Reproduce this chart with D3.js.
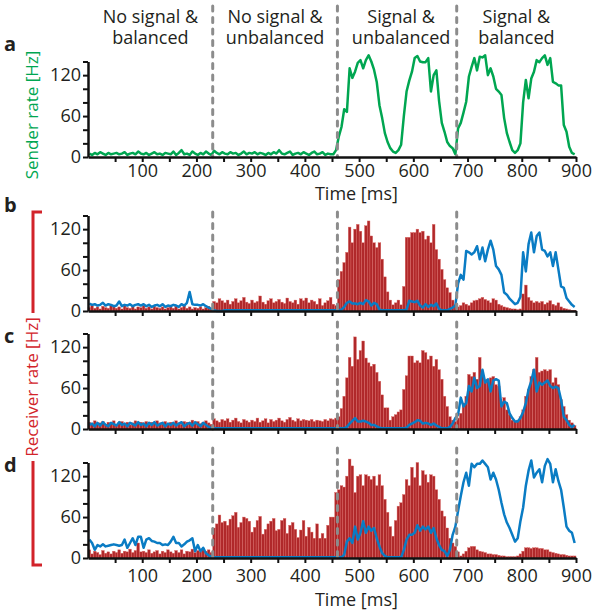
<!DOCTYPE html>
<html>
<head>
<meta charset="utf-8">
<script src="https://cdn.jsdelivr.net/npm/d3@7"></script>
<style>
body { margin: 0; background: #fff; }
text { font-family: "Open Sans", sans-serif; fill: #231f20; }
</style>
</head>
<body>
<div id="chart"></div>
<script>
//DATA
//Regimes and their boundaries (ms)
const regimeLabels = [["No signal &", "balanced"], ["No signal &", "unbalanced"], ["Signal &", "unbalanced"], ["Signal &", "balanced"]];
const regimeBounds = [0, 230, 460, 680, 900];

//Bins of 5 ms, one value per bin (0-895 ms)
const binWidth = 5;

//Panel a - sender rate (Hz)
const senderRate = [
  5,3,6,4,7,5,3,6,4,5,
  6,4,5,7,3,5,6,4,8,5,
  4,6,3,5,7,4,5,3,6,5,
  4,8,3,6,10,4,5,3,8,5,
  3,6,4,8,5,3,9,6,4,7,
  5,4,7,5,6,3,5,8,4,6,
  5,7,4,6,5,3,6,4,7,5,
  10,5,4,6,8,3,5,6,4,7,
  5,3,6,8,4,5,7,3,5,4,
  4,10,30,44,70,66,130,116,125,138,
  142,130,142,149,140,128,110,76,57,35,
  22,13,8,6,10,18,60,96,112,125,
  145,148,140,139,139,145,96,120,127,82,
  50,37,22,16,13,4,42,50,65,81,
  118,132,145,127,147,146,149,120,130,118,
  100,96,91,57,35,22,10,6,10,20,
  80,113,86,115,125,142,139,145,149,135,
  145,110,108,105,105,47,37,15,6,4
];

//Panel b - receiver histogram and rate
const receiverBarsB = [
  5,8,4,6,3,7,5,4,9,6,
  4,6,3,8,5,4,7,3,6,5,
  8,4,6,3,7,5,4,6,3,5,
  6,4,7,3,5,8,4,6,3,5,
  4,6,3,5,7,4,14,12,18,15,
  12,16,10,14,18,12,15,20,13,11,
  16,12,14,22,13,10,15,18,12,14,
  17,13,11,19,14,12,16,10,18,15,
  19,12,16,14,10,18,8,12,15,20,
  10,8,46,58,71,86,123,100,120,127,
  117,100,125,132,110,100,93,100,76,50,
  28,16,9,12,16,9,36,108,108,115,
  115,120,115,117,105,110,100,127,90,76,
  61,46,34,27,16,9,6,8,12,10,
  8,12,15,16,18,20,17,15,12,18,
  16,10,8,6,5,4,3,3,2,3,
  25,38,20,15,12,14,12,14,10,12,
  15,10,8,12,6,4,3,2,1,1
];
const receiverLineB = [
  11,9,10,8,9,12,8,10,9,7,
  8,14,7,9,8,10,7,9,10,8,
  10,7,9,6,8,9,7,10,6,8,
  7,9,8,6,10,8,12,28,10,9,
  9,8,10,7,5,3,1,0,0,0,
  1,1,1,1,1,1,1,1,1,1,
  1,1,1,1,1,1,1,1,1,1,
  1,1,1,1,1,1,1,1,1,1,
  1,1,1,1,1,1,1,1,1,1,
  1,1,1,2,6,12,14,11,11,10,
  12,10,16,14,8,12,10,2,1,1,
  1,1,1,1,1,1,1,2,15,14,
  13,15,8,5,10,6,9,7,11,3,
  1,1,1,3,5,8,40,53,46,88,
  86,83,86,95,76,93,73,90,103,90,
  66,61,53,27,24,18,14,10,12,21,
  86,58,98,115,86,110,115,90,88,80,
  86,66,86,61,36,34,19,14,9,6
];

//Panel c - receiver histogram and rate
const receiverBarsC = [
  10,8,12,7,9,11,6,10,8,12,
  7,9,11,8,10,6,9,12,8,10,
  9,11,7,10,8,12,9,7,11,8,
  10,8,12,9,7,11,10,8,13,9,
  11,8,10,12,9,7,15,12,10,14,
  12,15,10,13,16,11,9,14,12,10,
  13,11,16,10,12,15,9,14,11,13,
  16,12,10,14,17,13,11,15,12,14,
  13,12,14,11,13,12,11,14,12,15,
  14,16,18,30,48,75,105,92,135,102,
  115,129,104,97,92,95,83,70,50,31,
  31,13,18,21,25,28,58,78,107,107,
  97,100,97,115,112,102,107,92,102,87,
  73,48,33,18,13,11,16,23,38,48,
  80,77,83,73,105,83,70,73,75,77,
  65,63,40,46,28,21,13,11,13,18,
  28,48,58,77,87,105,83,85,87,85,
  87,68,75,65,43,33,21,13,9,5
];
const receiverLineC = [
  6,8,4,9,5,10,6,4,9,7,
  5,10,6,8,4,9,7,5,10,6,
  8,4,9,6,10,5,7,9,4,8,
  6,9,5,8,10,4,7,9,5,10,
  7,4,9,6,3,1,1,1,1,1,
  1,1,1,1,1,1,1,1,1,1,
  1,1,1,1,1,1,1,1,1,1,
  1,1,1,1,1,1,1,1,1,1,
  1,1,1,1,1,1,1,1,1,1,
  1,1,1,1,1,3,8,12,16,11,
  11,12,11,9,6,6,4,2,1,1,
  1,1,1,1,1,1,1,2,6,8,
  10,13,12,8,9,8,6,8,5,3,
  1,1,1,3,8,16,21,46,33,38,
  63,55,75,60,63,87,68,73,55,71,
  73,71,33,40,38,23,16,11,11,16,
  25,38,58,70,87,55,68,65,68,71,
  63,60,62,60,43,18,13,6,3,6
];

//Panel d - receiver histogram and rate
const receiverBarsD = [
  12,6,10,8,5,11,7,9,6,10,
  8,12,7,10,9,13,8,11,22,9,
  10,8,12,7,9,11,6,10,8,12,
  9,7,11,8,12,6,10,9,13,8,
  11,9,14,10,12,8,44,50,63,52,
  54,48,57,62,67,45,52,60,58,54,
  38,45,55,61,35,42,50,54,58,40,
  42,55,58,36,48,52,42,30,41,55,
  32,45,38,29,50,29,36,29,48,60,
  60,96,100,106,104,120,145,135,96,120,
  122,106,122,120,115,120,106,122,106,86,
  67,46,32,55,76,81,93,115,106,133,
  118,140,106,128,122,111,122,120,100,86,
  69,61,44,29,22,17,9,3,6,10,
  15,17,17,12,10,9,8,6,6,5,
  5,4,3,3,2,2,2,2,3,6,
  10,15,15,14,15,15,14,14,12,12,
  9,8,7,6,5,5,4,3,3,3
];
const receiverLineD = [
  27,22,12,19,17,20,17,18,19,20,
  19,18,19,27,15,22,29,19,31,31,
  15,27,29,25,24,22,22,19,20,19,
  24,31,22,22,17,20,24,26,29,10,
  19,10,15,7,4,2,1,1,1,1,
  1,1,1,1,1,1,1,1,1,1,
  1,1,1,1,1,1,1,1,1,1,
  1,1,1,1,1,1,1,1,1,1,
  1,1,1,1,1,1,1,1,1,1,
  1,1,1,1,5,24,29,22,46,27,
  37,54,37,46,40,44,29,17,7,3,
  1,1,1,1,1,1,12,27,34,34,
  37,48,40,46,42,46,37,44,29,19,
  12,10,3,12,34,46,69,91,111,125,
  106,138,133,138,138,143,138,133,115,125,
  115,100,81,64,52,44,34,24,29,54,
  74,106,128,143,118,125,130,111,135,145,
  138,111,130,113,100,74,46,40,37,22
];

//Axis ticks
const yTicks = [0, 20, 40, 60, 80, 100, 120, 140];
const yTickLabels = [0, 60, 120];
const xTicks = [50, 100, 150, 200, 250, 300, 350, 400, 450, 500, 550, 600, 650, 700, 750, 800, 850, 900];
const xTickLabels = [100, 200, 300, 400, 500, 600, 700, 800, 900];

//SCRIPT PROPERTIES
const w = 600, h = 614;
const green = "#00a651", blue = "#0a7cc4", red = "#d2232a", barFill = "#b0282a", dashGrey = "#8c8c8c";

const x = d3.scaleLinear().domain([0, 900]).range([88, 576]);

//Panel layout: bottom of axis, top of dashed lines, axis label offsets
const panels = [
  {letter: "a", bottom: 157, dashTop: 6, letterY: 51, bars: null, line: senderRate, lineColour: green, labels: true, tickPad: 2, titleY: 200},
  {letter: "b", bottom: 311, dashTop: 212, letterY: 212, bars: receiverBarsB, line: receiverLineB, lineColour: blue, labels: false},
  {letter: "c", bottom: 429, dashTop: 322, letterY: 343, bars: receiverBarsC, line: receiverLineC, lineColour: blue, labels: false},
  {letter: "d", bottom: 558, dashTop: 448, letterY: 472, bars: receiverBarsD, line: receiverLineD, lineColour: blue, labels: true, tickPad: 6, titleY: 606}
];
const plotH = 95.5;

const svg = d3.select("#chart").append("svg")
  .attr("width", w)
  .attr("height", h)
  .style("background-color", "white");

//Regime headers
regimeLabels.forEach((lines, i) => {
  let cx = x((regimeBounds[i] + regimeBounds[i + 1]) / 2) + (i === 2 ? 4 : 0);
  let t = svg.append("text")
    .attr("text-anchor", "middle")
    .style("font-size", "18px");
  lines.forEach((s, j) => {
    t.append("tspan").attr("x", cx).attr("y", 23 + j * 21).text(s);
  });
});

panels.forEach(p => {
  const y = d3.scaleLinear().domain([0, 140]).range([p.bottom, p.bottom - plotH]);
  const g = svg.append("g").attr("class", "panel-" + p.letter);

  //Histogram bars
  if (p.bars) {
    g.append("g")
      .selectAll("rect")
      .data(p.bars)
      .enter()
      .append("rect")
      .attr("x", (d, i) => x(i * binWidth))
      .attr("width", (d, i) => x((i + 1) * binWidth) - x(i * binWidth))
      .attr("y", d => y(d))
      .attr("height", d => p.bottom - y(d))
      .attr("fill", barFill)
      .attr("stroke", "#dd6a66")
      .attr("stroke-width", 0.4);
  }

  //Rate line
  const line = d3.line()
    .x((d, i) => x(i * binWidth + binWidth / 2))
    .y(d => y(d));
  g.append("path")
    .datum(p.line)
    .attr("d", line)
    .attr("fill", "none")
    .attr("stroke", p.lineColour)
    .attr("stroke-width", 2.5)
    .attr("stroke-linejoin", "round");

  //Regime boundaries
  g.selectAll("line.boundary")
    .data(regimeBounds.slice(1, 4))
    .enter()
    .append("line")
    .attr("class", "boundary")
    .attr("x1", d => x(d)).attr("x2", d => x(d))
    .attr("y1", p.dashTop).attr("y2", p.bottom)
    .attr("stroke", dashGrey)
    .attr("stroke-width", 3)
    .attr("stroke-linecap", "round")
    .attr("stroke-dasharray", "5,6.5");

  //Y axis
  const yAxis = d3.axisLeft(y)
    .tickValues(yTicks)
    .tickFormat(d => yTickLabels.includes(d) ? d : "")
    .tickSize(5)
    .tickSizeOuter(0)
    .tickPadding(2);
  const ya = g.append("g").attr("transform", `translate(${x(0)},0)`).call(yAxis);

  //X axis
  const xAxis = d3.axisBottom(x)
    .tickValues(xTicks)
    .tickFormat(d => p.labels && xTickLabels.includes(d) ? d : "")
    .tickSize(5)
    .tickSizeOuter(0)
    .tickPadding(p.tickPad || 3);
  const xa = g.append("g").attr("transform", `translate(0,${p.bottom})`).call(xAxis);

  [ya, xa].forEach(a => {
    a.select(".domain").attr("stroke", "#111").attr("stroke-width", 2.5);
    a.selectAll(".tick line").attr("stroke", "#111").attr("stroke-width", 2);
    a.selectAll(".tick text").style("font-size", "18px").attr("fill", "#231f20")
      .style("font-family", "'Open Sans', sans-serif");
  });

  //Axis title
  if (p.labels) {
    g.append("text")
      .attr("x", x(495)).attr("y", p.titleY)
      .attr("text-anchor", "middle")
      .style("font-size", "18px")
      .text("Time [ms]");
  }

  //Panel letter
  g.append("text")
    .attr("x", 4).attr("y", p.letterY)
    .style("font-size", "20px")
    .style("font-weight", "bold")
    .text(p.letter);
});

//Sender label
svg.append("text")
  .attr("transform", "translate(38,115) rotate(-90)")
  .attr("text-anchor", "middle")
  .style("font-size", "17px")
  .style("fill", green)
  .text("Sender rate [Hz]");

//Receiver label with bracket
svg.append("text")
  .attr("transform", "translate(38,387) rotate(-90)")
  .attr("text-anchor", "middle")
  .style("font-size", "17px")
  .style("fill", red)
  .text("Receiver rate [Hz]");

svg.append("path")
  .attr("d", "M42,212 H33 V313 M33,461 V565 H42")
  .attr("fill", "none")
  .attr("stroke", red)
  .attr("stroke-width", 3);
</script>
</body>
</html>
